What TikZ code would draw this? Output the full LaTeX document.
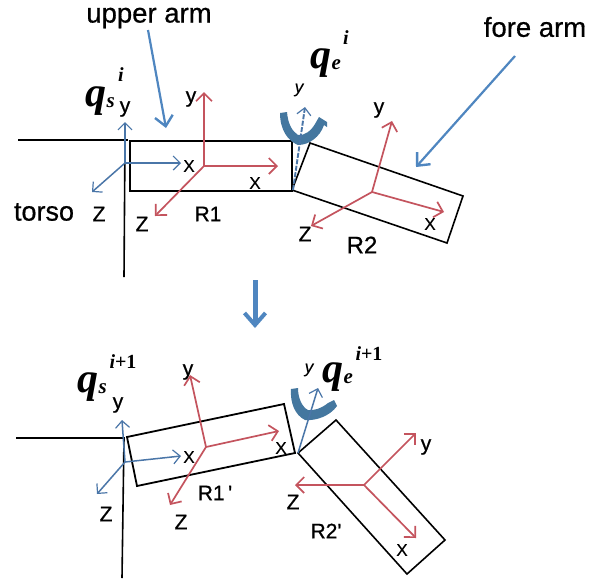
\documentclass[tikz,border=0pt]{standalone}
\usepackage{fontspec}
\setmainfont[FakeBold=0.6]{Liberation Sans}
\newfontfamily\lblfont[FakeBold=0.25]{Liberation Sans}
\newfontfamily\boldlbl[FakeBold=0.8]{Liberation Sans}
\newfontfamily\qfont{Liberation Serif}
\usetikzlibrary{arrows.meta}
\definecolor{redax}{HTML}{C4545E}
\definecolor{blueax}{HTML}{4A76A8}
\definecolor{bluecall}{HTML}{4F86C0}
\definecolor{bluecurl}{HTML}{44779F}
\newcommand{\qsub}[2]{{\fontsize{#1}{#1}\selectfont q}\kern0.3pt\raisebox{-1.5pt}{\fontsize{21}{21}\selectfont #2}}
\newcommand{\iplus}{{\itshape i}{\upshape +1}}
\tikzset{
  x=1pt,y=-1pt,
  redarrow/.style={draw=redax,line width=1.7pt,-{Straight Barb[length=8pt,width=16pt,line width=1.7pt]}},
  bluearrow/.style={draw=blueax,line width=1.5pt,-{Straight Barb[length=7pt,width=14pt,line width=1.2pt]}},
  callout/.style={draw=bluecall,line width=2.2pt,-{Straight Barb[length=10pt,width=18pt,line width=2.4pt]}},
  link/.style={draw=black,line width=1.8pt,line join=miter},
  body/.style={draw=black,line width=1.6pt},
  lbl/.style={inner sep=0pt,font=\lblfont\fontsize{17}{17}\selectfont},
  big/.style={inner sep=0pt,font=\fontsize{27.5}{27.5}\selectfont},
  mid/.style={inner sep=0pt,font=\boldlbl\fontsize{21}{21}\selectfont},
  rname/.style={inner sep=0pt,font=\boldlbl\fontsize{21}{21}\selectfont},
  qsym/.style={inner sep=0pt,font=\qfont\bfseries\itshape},
  qsup/.style={inner sep=0pt,font=\qfont\bfseries\fontsize{20}{20}\selectfont},
}
\begin{document}
\begin{tikzpicture}
\useasboundingbox (0,0) rectangle (589,587);
\fill[white] (0,0) rectangle (589,587);

% ---------- top: torso
\coordinate (t1) at (18,140); \coordinate (t2) at (128,140);
\coordinate (t3) at (125,140); \coordinate (t4) at (124,277);
\draw[link] (t1) -- (t2);
\draw[body] (t3) -- (t4);
% upper arm
\draw[link] (130,141) -- (292,141) -- (292,191) -- (130,191) -- cycle;
% fore arm
\draw[body] (292,190) -- (310,143) -- (463,196) -- (447,243) -- cycle;

% top shoulder frame
\coordinate (bo) at (125,163);
\coordinate (by) at (125,122); \coordinate (bx) at (181,163); \coordinate (bz) at (92,192);
\draw[bluearrow] (bo) -- (by);
\draw[bluearrow] (bo) -- (bx);
\draw[bluearrow] (bo) -- (bz);
% R1 frame
\coordinate (ro) at (204,166);
\coordinate (ry) at (204,92); \coordinate (rx) at (278,166); \coordinate (rz) at (155,216);
\draw[redarrow] (ro) -- (ry);
\draw[redarrow] (ro) -- (rx);
\draw[redarrow] (ro) -- (rz);
% R2 frame
\coordinate (so) at (372,192);
\coordinate (sy) at (392,121); \coordinate (sx) at (444,212); \coordinate (sz) at (311,226);
\draw[redarrow] (so) -- (sy);
\draw[redarrow] (so) -- (sx);
\draw[redarrow] (so) -- (sz);
% top curl
\fill[bluecurl] (280,113) -- (287,112) .. controls (288,124) and (292,131) .. (298,135)
  .. controls (304,136) and (311,131) .. (315,124) -- (319,117) -- (327,122) -- (327,127) -- (324,125)
  .. controls (320,137) and (309,145) .. (298,145)
  .. controls (288,141) and (280,130) .. (280,113) -- cycle;
% elbow frame
\coordinate (eo) at (293,190); \coordinate (ey) at (305,107);
\draw[bluearrow,dashed,dash pattern=on 5pt off 1.5pt,line width=1.9pt] (eo) -- (ey);
% callouts
\coordinate (ua1) at (148,30); \coordinate (ua2) at (166,128);
\draw[callout] (ua1) -- (ua2);
\coordinate (fa1) at (515,56); \coordinate (fa2) at (416,167);
\draw[callout] (fa1) -- (fa2);
\coordinate (dn1) at (255,280); \coordinate (dn2) at (255,328);
\draw[draw=bluecall,line width=5pt,-{Straight Barb[length=12pt,width=21pt,line width=4pt]}] (dn1) -- (dn2);

% top labels
\node[big] (lua) at (149,18) {upper arm};
\node[big] (lfa) at (535,27) {fore arm};
\node[big] (ltorso) at (44,212) {\fontsize{27}{27}\selectfont torso};
\node[mid] (a1) at (99,214) {Z};
\node[mid] (a2) at (125,109) {y};
\node[lbl] (a3) at (189,166) {X};
\node[mid] (a4) at (191,99) {y};
\node[lbl] (a5) at (255,183) {X};
\node[mid] (a6) at (142,224) {Z};
\node[rname] (lr1) at (208,214) {R1};
\node[lbl] (a7) at (299,90) {\itshape y};
\node[mid] (a8) at (379,110) {y};
\node[lbl] (a9) at (430,224) {X};
\node[mid] (a10) at (305,234) {Z};
\node[rname] (lr2) at (362,245) {\fontsize{24}{24}\selectfont R2};
\node[qsym,anchor=base west] (qs1) at (85,106) {\qsub{42}{s}};
\node[qsup] (qs1c) at (121,75) {\itshape i};
\node[qsym,anchor=base west] (qe1) at (310,68) {\qsub{42}{e}};
\node[qsup] (qe1c) at (346,38) {\itshape i};

% ---------- bottom
\coordinate (T1) at (16,438); \coordinate (T2) at (125,438);
\coordinate (T3) at (124,438); \coordinate (T4) at (122,578);
\draw[body] (T1) -- (T2);
\draw[body] (T3) -- (T4);
\draw[link] (127,437) -- (284,404) -- (295,453) -- (137,486) -- cycle;
\draw[body] (298,453) -- (336,420) -- (445,540) -- (407,574) -- cycle;

\coordinate (Bo) at (125,462);
\coordinate (By) at (122,420); \coordinate (Bx) at (181,456); \coordinate (Bz) at (97,494);
\draw[bluearrow] (Bo) -- (By);
\draw[bluearrow] (Bo) -- (Bx);
\draw[bluearrow] (Bo) -- (Bz);
\coordinate (Ro) at (206,447);
\coordinate (Ry) at (190,375); \coordinate (Rx) at (279,431); \coordinate (Rz) at (170,505);
\draw[redarrow] (Ro) -- (Ry);
\draw[redarrow] (Ro) -- (Rx);
\draw[redarrow] (Ro) -- (Rz);
\coordinate (So) at (364,485);
\coordinate (Sy) at (416,433); \coordinate (Sx) at (416,538); \coordinate (Sz) at (295,485);
\draw[redarrow] (So) -- (Sy);
\draw[redarrow] (So) -- (Sx);
\draw[redarrow] (So) -- (Sz);
\coordinate (Eo) at (298,453); \coordinate (Ey) at (318,388);
\fill[bluecurl] (291,389) -- (298,388) .. controls (298,398) and (302,407) .. (308,410)
  .. controls (314,411) and (322,408) .. (328,403) -- (334,400) -- (337,406)
  .. controls (330,416) and (316,421) .. (305,420)
  .. controls (295,415) and (290,403) .. (291,389) -- cycle;
\draw[bluearrow] (Eo) -- (Ey);

\node[mid] (b1) at (106,514) {Z};
\node[mid] (b2) at (118,405) {y};
\node[lbl] (b3) at (189,457) {X};
\node[mid] (b4) at (188,372) {y};
\node[lbl] (b5) at (281,448) {X};
\node[mid] (b6) at (181,522) {Z};
\node[rname] (lr1p) at (215,493) {R1\,'};
\node[lbl] (b7) at (309,370) {\itshape y};
\node[mid] (b8) at (426,447) {y};
\node[lbl] (b9) at (402,550) {X};
\node[mid] (b10) at (293,502) {Z};
\node[rname] (lr2p) at (326,531) {R2'};
\node[qsym,anchor=base west] (qs2) at (77,392) {\qsub{42}{s}};
\node[qsup] (qs2c) at (123,362) {\iplus};
\node[qsym,anchor=base west] (qe2) at (322,382) {\qsub{42}{e}};
\node[qsup] (qe2c) at (369,354) {\iplus};
\end{tikzpicture}
\end{document}
